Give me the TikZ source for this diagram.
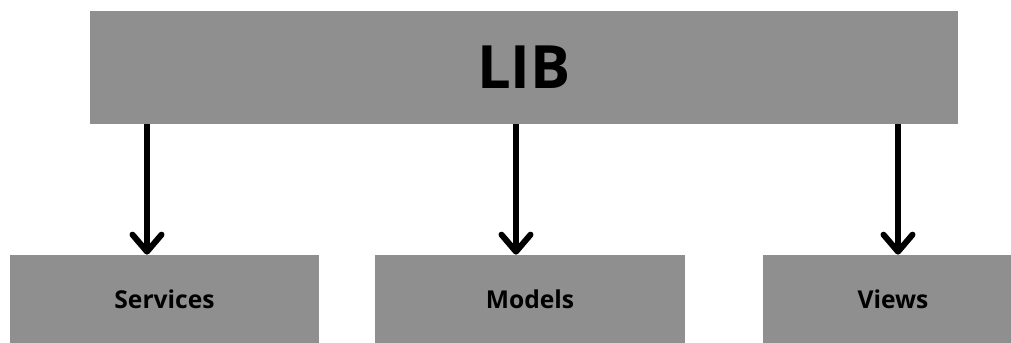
\documentclass[tikz,border=0pt]{standalone}
\usepackage{fontspec}
\setmainfont{Open Sans}
\usetikzlibrary{arrows.meta,positioning}
\definecolor{boxgray}{RGB}{143,143,143}

\begin{document}
\begin{tikzpicture}[x=0.02cm, y=-0.02cm,
    libbox/.style={rectangle, fill=boxgray, inner sep=0pt, minimum width=17.36cm, minimum height=2.26cm, font=\fontsize{34}{40}\selectfont\bfseries},
    partbox/.style={rectangle, fill=boxgray, inner sep=0pt, minimum height=1.76cm, font=\fontsize{14}{17}\selectfont\bfseries},
    arrow/.style={-{Straight Barb[length=0.34cm, width=0.58cm, round]}, line width=0.12cm}
]
    \useasboundingbox (0,0) rectangle (1011,342);
    \clip (0,0) rectangle (1011,342);

    % Top layer
    \node[libbox] (lib) at (524,67.5) {LIB};

    % Bottom layer
    \node[partbox, minimum width=6.18cm] (services) at (164.5,299) {Services};
    \node[partbox, minimum width=6.2cm] (models) at (530,299) {Models};
    \node[partbox, minimum width=5.2cm] (views) at (893,299) {Views};

    % Arrows
    \coordinate (a1) at (147,0);
    \coordinate (a2) at (516,0);
    \coordinate (a3) at (898,0);
    \draw[arrow] (lib.south -| a1) -- (services.north -| a1);
    \draw[arrow] (lib.south -| a2) -- (models.north -| a2);
    \draw[arrow] (lib.south -| a3) -- (views.north -| a3);
\end{tikzpicture}
\end{document}
